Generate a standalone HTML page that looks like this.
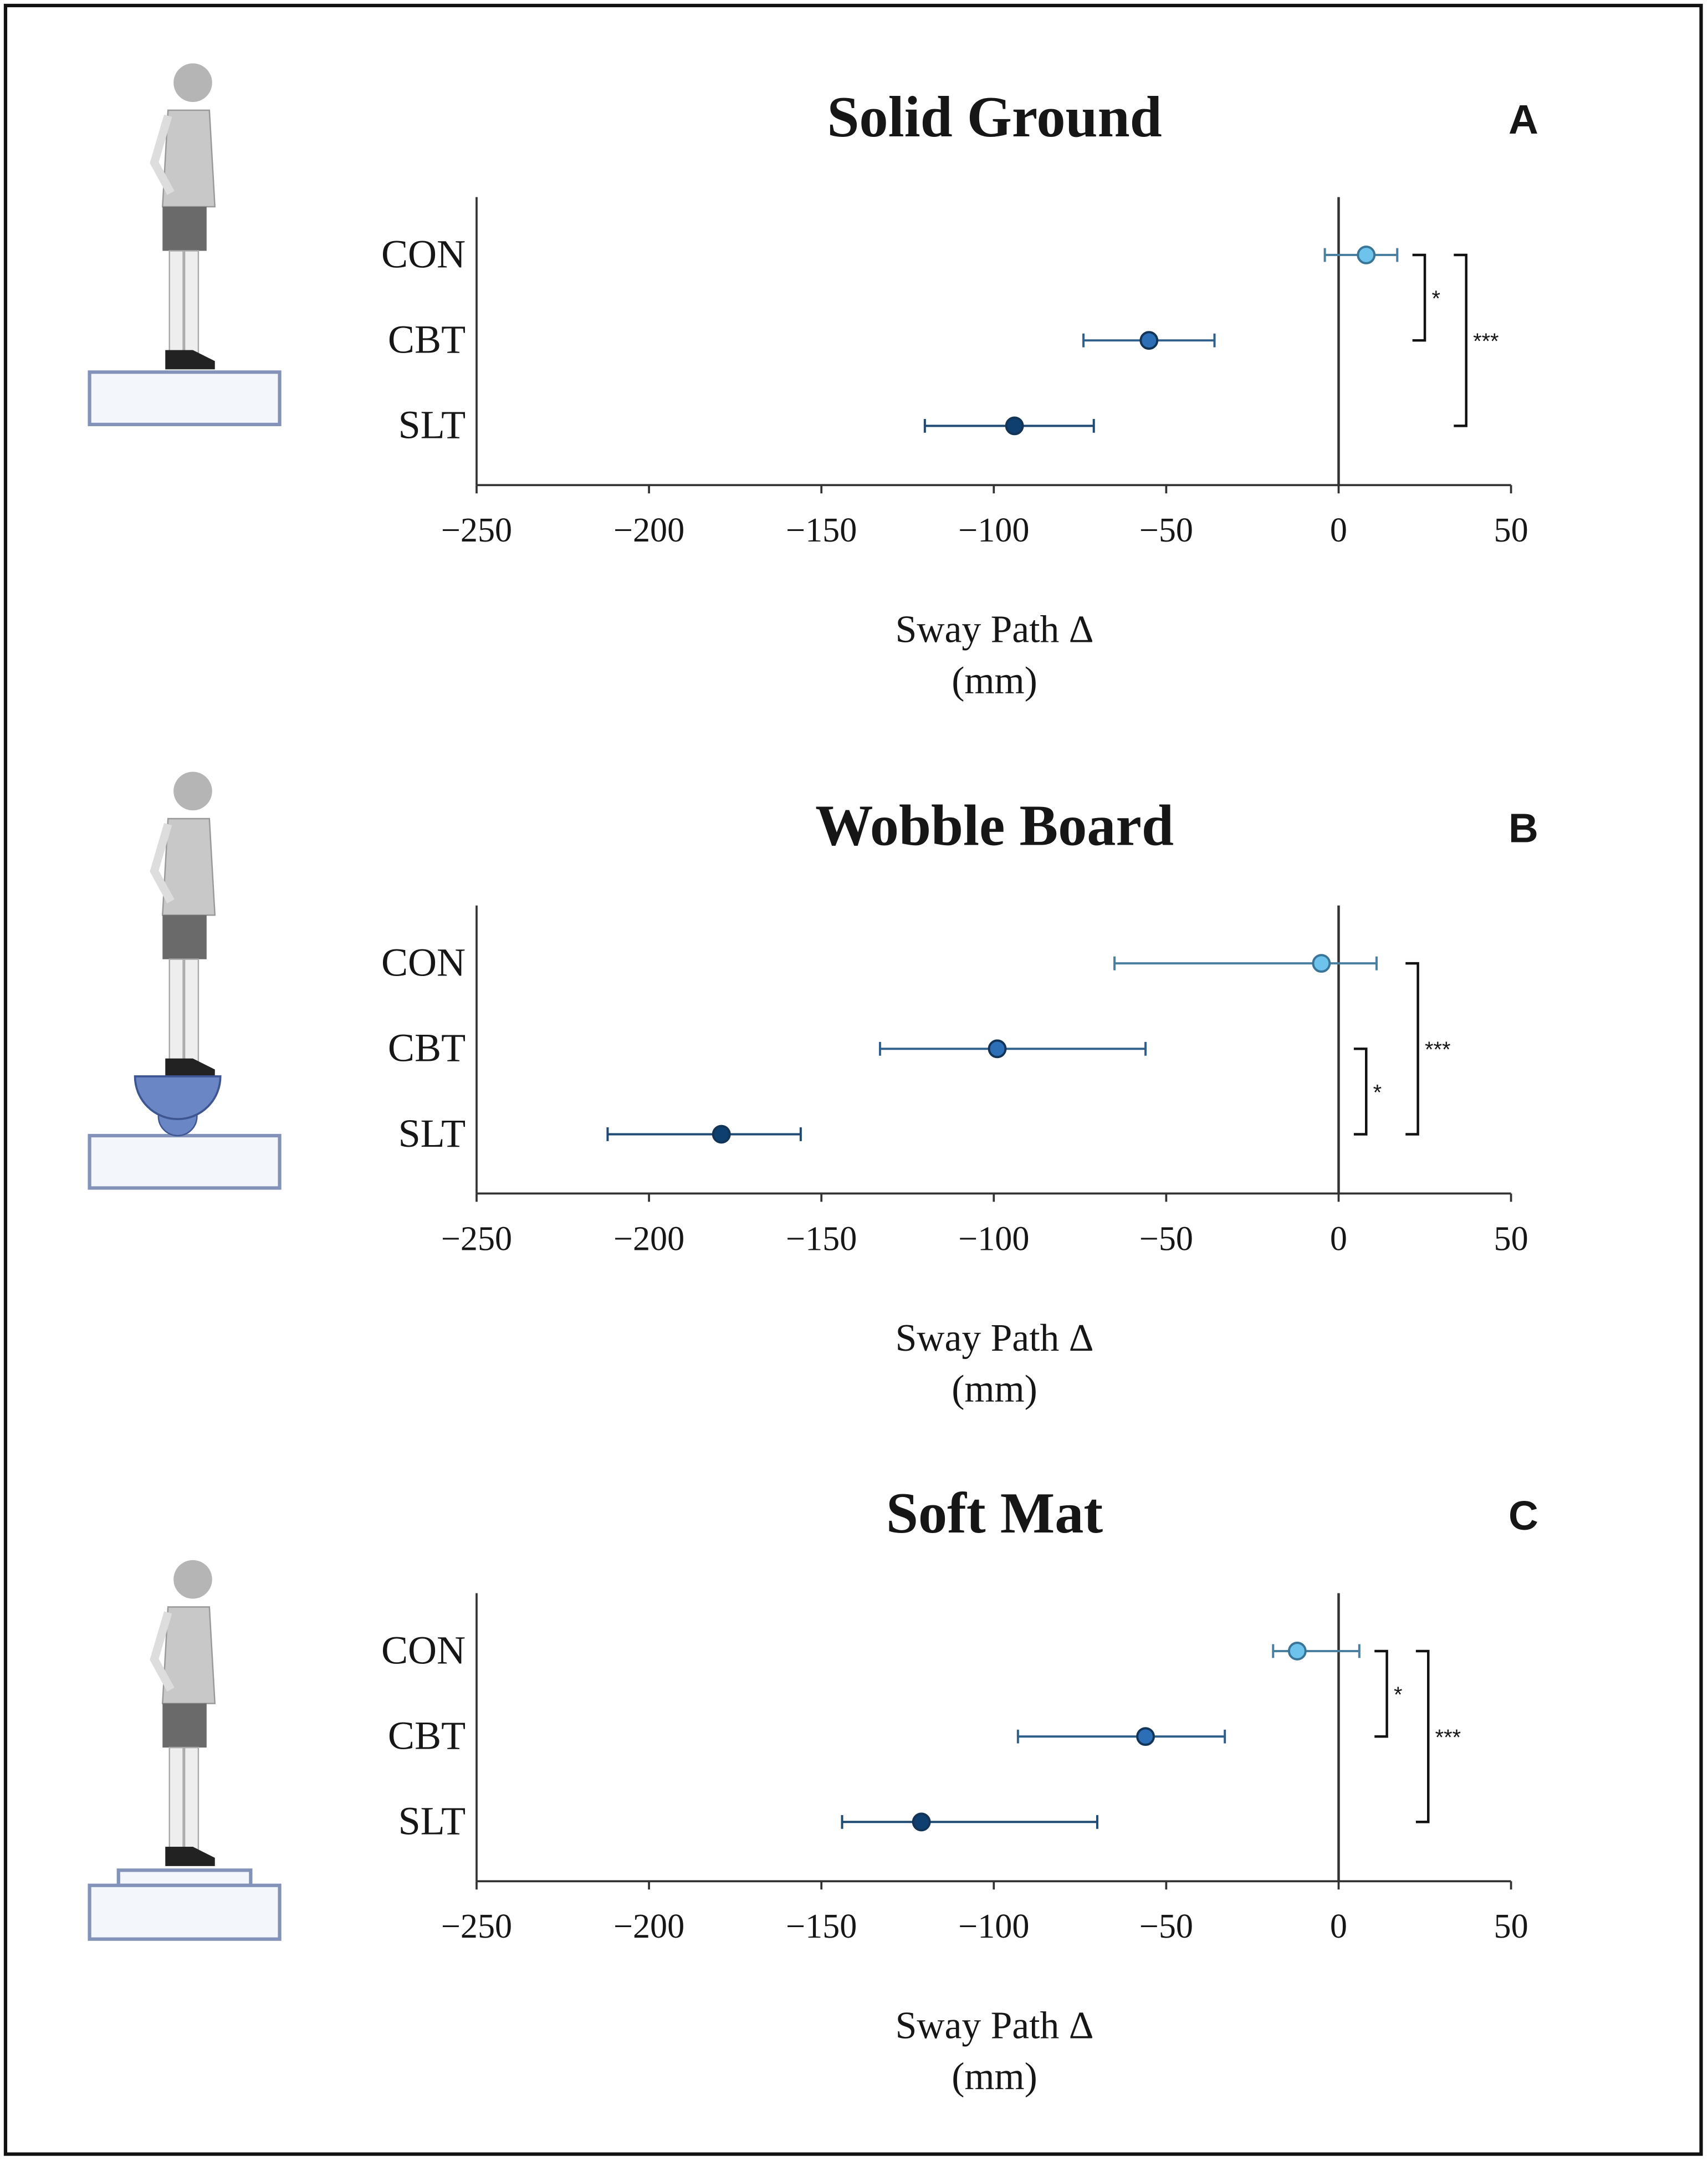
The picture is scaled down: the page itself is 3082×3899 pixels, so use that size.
<!DOCTYPE html>
<html><head><meta charset="utf-8"><style>
html,body{margin:0;padding:0;background:#fff;}
svg{display:block;}
text{font-family:"Liberation Serif",serif;fill:#161616;}
</style></head><body>
<svg id="fig" width="3082" height="3899" viewBox="0 0 1240 1568" preserveAspectRatio="none" xmlns="http://www.w3.org/2000/svg">
<rect x="4" y="4" width="1231" height="1559" fill="#fff" stroke="#111" stroke-width="2.5"/>
<defs>
<g id="child">
  <circle cx="140" cy="60" r="14" fill="#b5b5b5"/>
  <path d="M122 80 L152 80 L156 150 L118 150 Z" fill="#c8c8c8" stroke="#999" stroke-width="1"/>
  <path d="M122 84 L112 118 L124 140" fill="none" stroke="#ddd" stroke-width="6"/>
  <rect x="118" y="150" width="32" height="32" fill="#6a6a6a"/>
  <rect x="123" y="182" width="10" height="74" fill="#eee" stroke="#aaa" stroke-width="1"/>
  <rect x="134" y="182" width="10" height="74" fill="#eee" stroke="#aaa" stroke-width="1"/>
  <path d="M120 254 L140 254 L156 262 L156 268 L120 268 Z" fill="#222"/>
</g>
</defs>
</svg>
<script>
const cats = ["CON","CBT","SLT"];
const titles = ["Solid Ground","Wobble Board","Soft Mat"];
const letters = ["A","B","C"];
const means = [[8,-55,-94],[-5,-99,-179],[-12,-56,-121]];
const lows  = [[-4,-74,-120],[-65,-133,-212],[-19,-93,-144]];
const highs = [[17,-36,-71],[11,-56,-156],[6,-33,-70]];
const ticks = [-250,-200,-150,-100,-50,0,50];
const tickLabels = ["\u2212250","\u2212200","\u2212150","\u2212100","\u221250","0","50"];
// brackets: [fromCat, toCat, xData, label]
const brackets = [
  [[0,1,25,"*"],[0,2,37,"***"]],
  [[1,2,8,"*"],[0,2,23,"***"]],
  [[0,1,14,"*"],[0,2,26,"***"]]
];
const colors=["#6ec3ec","#2c6fb6","#0f3f6f"];
const ecolors=["#4a7fa0","#2f5f8a","#1f4a73"];
const NS="http://www.w3.org/2000/svg";
const svg=document.getElementById('fig');
function mk(tag,attrs,parent){const e=document.createElementNS(NS,tag);for(const k in attrs)e.setAttribute(k,attrs[k]);(parent||svg).appendChild(e);return e;}
const x0=346,x1=1097,dmin=-250,dmax=50;
const X=v=>x0+(v-dmin)/(dmax-dmin)*(x1-x0);
const offsets=[0,514,1013];
offsets.forEach((off,p)=>{
  const g=mk('g',{transform:`translate(0,${off})`});
  
  
  const axisY=352, top=143;
  const rowY=i=>185+62*i;
  let t=mk('text',{x:722,y:99,'text-anchor':'middle','font-size':42,'font-weight':'bold'},g);t.textContent=titles[p];
  
  t=mk('text',{x:1106,y:97,'text-anchor':'middle','font-size':30,'font-weight':'bold',style:'font-family:"Liberation Sans",sans-serif'},g);t.textContent=letters[p];
  
  let l=mk('line',{x1:x0,y1:top,x2:x0,y2:axisY,stroke:'#333','stroke-width':1.5},g);
  
  l=mk('line',{x1:x0,y1:axisY,x2:x1,y2:axisY,stroke:'#333','stroke-width':1.5},g);
  
  l=mk('line',{x1:X(0),y1:top,x2:X(0),y2:axisY,stroke:'#333','stroke-width':1.8},g);
  
  ticks.forEach((v,i)=>{
    mk('line',{x1:X(v),y1:axisY,x2:X(v),y2:axisY+6,stroke:'#333','stroke-width':1.5},g);
    const tt=mk('text',{x:X(v),y:axisY+41,'text-anchor':'middle','font-size':25},g);tt.textContent=tickLabels[i];
    
  });
  t=mk('text',{x:722,y:466,'text-anchor':'middle','font-size':28},g);t.textContent="Sway Path \u0394";
  
  t=mk('text',{x:722,y:503,'text-anchor':'middle','font-size':28},g);t.textContent="(mm)";
  
  cats.forEach((c,i)=>{
    const y=rowY(i);
    const ct=mk('text',{x:338,y:y+9,'text-anchor':'end','font-size':29},g);ct.textContent=c;
    
    const eb=mk('path',{d:`M${X(lows[p][i])} ${y}H${X(highs[p][i])}M${X(lows[p][i])} ${y-5}V${y+5}M${X(highs[p][i])} ${y-5}V${y+5}`,stroke:ecolors[i],'stroke-width':1.6,fill:'none'},g);
    
    const pt=mk('circle',{cx:X(means[p][i]),cy:y,r:6,fill:colors[i],stroke:i==0?'#3a7598':'#123456','stroke-width':1.6},g);
    
  });
  brackets[p].forEach(b=>{
    const xb=X(b[2]),ya=rowY(b[0]),yb=rowY(b[1]);
    const bp=mk('path',{d:`M${xb-9} ${ya}H${xb}V${yb}H${xb-9}`,stroke:'#111','stroke-width':1.8,fill:'none'},g);
    
    const st=mk('text',{x:xb+5,y:(ya+yb)/2+6,'font-size':16,style:'font-family:"Liberation Sans",sans-serif'},g);st.textContent=b[3];
    
  });
});
const ill=[0,514,1086];
ill.forEach((off,p)=>{
  const g=mk('g',{transform:`translate(0,${off})`});
  
  
  mk('use',{href:'#child'},g);
});
let r=mk('rect',{x:65,y:270,width:138,height:38,fill:'#f3f6fb',stroke:'#8392b8','stroke-width':2.5});

r=mk('rect',{x:65,y:824,width:138,height:38,fill:'#f3f6fb',stroke:'#8392b8','stroke-width':2.5});

r=mk('circle',{cx:129,cy:810,r:14,fill:'#6b86c4',stroke:'#3d5590','stroke-width':1});

r=mk('path',{d:'M98 781 H160 A31 31 0 0 1 98 781 Z',fill:'#6b86c4',stroke:'#3d5590','stroke-width':1.5});

r=mk('rect',{x:86,y:1357,width:96,height:11,fill:'#f3f6fb',stroke:'#8392b8','stroke-width':2.5});

r=mk('rect',{x:65,y:1368,width:138,height:39,fill:'#f3f6fb',stroke:'#8392b8','stroke-width':2.5});

</script>
</body></html>
